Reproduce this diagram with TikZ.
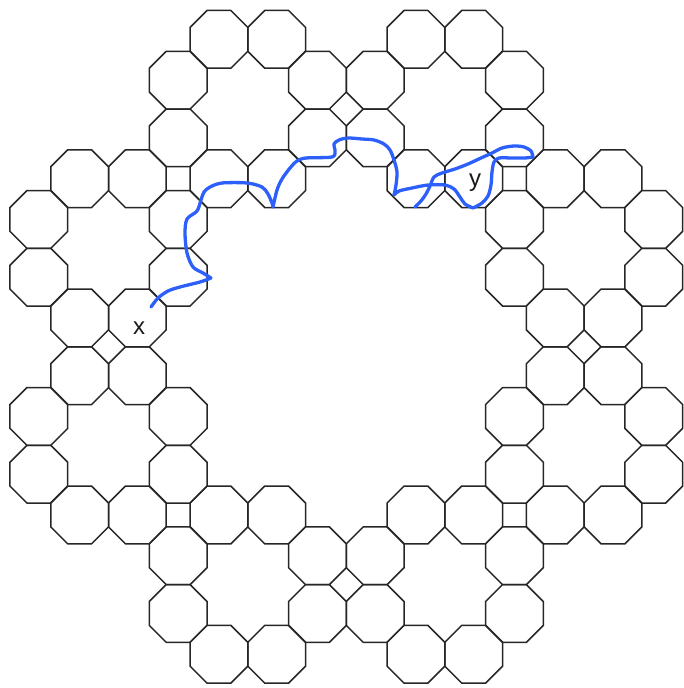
\documentclass[tikz,border=0pt]{standalone}
\usetikzlibrary{shapes.geometric}
\usepackage{fontspec}
\setmainfont{Liberation Sans}
\definecolor{pathblue}{RGB}{45,95,250}
\tikzset{
  oct/.style={regular polygon, regular polygon sides=8, minimum size=62.46pt,
    inner sep=0pt, outer sep=0pt, draw=black!85, line width=1.5pt},
  walk/.style={draw=pathblue, line width=3.3pt, line cap=round, line join=round},
  lbl/.style={font=\fontsize{24}{24}\selectfont, inner sep=0pt, text=black!90, anchor=base},
}
\begin{document}
\begin{tikzpicture}[x=1pt,y=-1pt]
\useasboundingbox (0,0) rectangle (683,688);
% 8 clusters of 8 octagons each (self-similar ring)
\foreach [count=\ci] \X/\Y in {1.7071/4.1213, -1.7071/4.1213, 1.7071/-4.1213, -1.7071/-4.1213,
                              4.1213/1.7071, -4.1213/1.7071, 4.1213/-1.7071, -4.1213/-1.7071}{
  \foreach [count=\oi] \x/\y in {0.5/1.2071, -0.5/1.2071, 0.5/-1.2071, -0.5/-1.2071,
                                1.2071/0.5, -1.2071/0.5, 1.2071/-0.5, -1.2071/-0.5}{
    \node[oct] (o-\ci-\oi) at ({346.3+(\X+\x)*57.7},{346.8+(\Y+\y)*57.7}) {};
  }
}
% labels
\node[lbl] (lx) at (139,334) {x};
\node[lbl] (ly) at (475,186) {y};
% hand-drawn blue walk
\draw[walk]
  plot[smooth, tension=0.5] coordinates {(151,307) (158,298) (168,291) (180,287) (200,282) (211,278)}
  plot[smooth, tension=0.5] coordinates {(211,278) (203,273) (193,267) (187,253) (185,233) (187,219) (197,211) (201,200) (204,192) (210,187) (222,183) (247,183) (262,187) (268,194) (272,203) (273,207)}
  plot[smooth, tension=0.5] coordinates {(273,207) (277,190) (282,179) (290,168) (297,161) (306,158) (332,157) (335,151) (334,144) (339,140) (348,138) (362,139) (374,140) (384,144) (390,150) (394,160) (397,172) (396,185) (394,195)}
  plot[smooth, tension=0.5] coordinates {(394,195) (399,191) (412,188) (428,185) (445,185) (454,189) (460,197) (465,204) (473,208)}
  plot[smooth, tension=0.5] coordinates {(473,208) (482,203) (488,196) (491,185) (492,172) (494,162) (499,158) (512,158) (525,158) (533,157)}
  plot[smooth, tension=0.5] coordinates {(533,157) (531,151) (524,147) (514,146) (502,148) (492,153) (481,158) (468,164) (455,169) (442,173) (434,177) (430,186) (426,194) (421,201) (415,207)};
\end{tikzpicture}
\end{document}
